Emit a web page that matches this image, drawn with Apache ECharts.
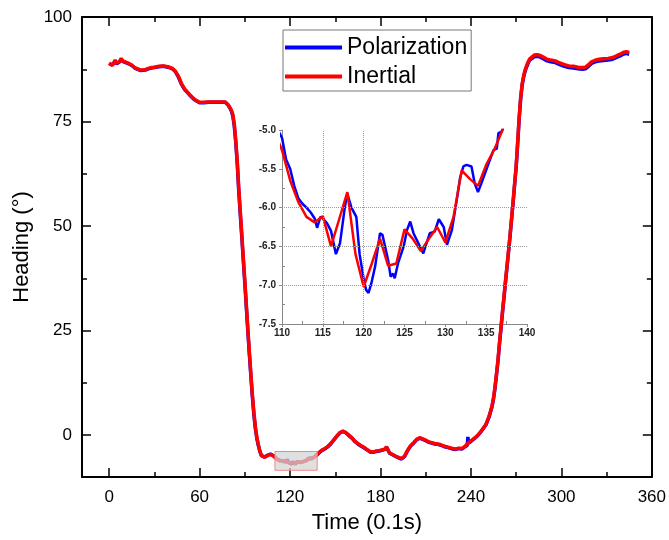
<!DOCTYPE html>
<html>
<head>
<meta charset="utf-8">
<script src="https://cdn.jsdelivr.net/npm/echarts@6/dist/echarts.min.js"></script>
<style>
html,body{margin:0;padding:0;background:#fff;}
#chart{width:669px;height:540px;}
</style>
</head>
<body>
<div id="chart"></div>
<script>
// ---- data ----
const inertialTime = [0,1,2,3,4,5,6,7,8,9,10,11,12,13,15,17,19,20,21,22,24,26,28,30,33,36,39,42,44,46,48,50,52,54,56,58,60,63,66,70,74,77,79,80,81,82,83,84,85,86,87,88,89,90,91,92,93,94,95,96,97,98,99,100,101,103,105,107,109,
110,111,112,113,114,115,116,117,118,119,120,121,122,123,124,125,126,127,128,129,130,131,132,133,134,135,136,137,
139,141,143,145,147,149,151,153,155,157,159,161,163,165,167,169,171,173,175,177,179,181,183,184,186,188,190,192,194,196,198,200,202,204,206,208,210,212,214,216,218,220,222,224,226,228,230,232,234,236,238,240,242,244,246,248,250,252,254,255,256,257,258,259,260,261,262,263,264,265,266,267,268,269,270,271,272,273,274,275,276,277,278,279,280,282,284,286,288,290,293,296,299,302,305,308,311,314,316,318,320,322,325,328,331,334,337,339,341,343,345];
const inertialHeading = [89.0,88.8,88.4,88.9,89.7,88.9,88.6,89.4,90.1,89.5,89.8,89.2,89.3,88.9,88.5,87.9,87.6,87.8,87.3,87.1,87.4,87.7,87.9,88.0,88.2,88.3,88.1,87.7,87.0,85.8,84.1,82.8,82.0,81.2,80.5,80.0,79.6,79.6,79.7,79.7,79.7,79.7,79.0,78.4,77.8,76.8,74.5,70.5,65.5,59.0,53.5,48.0,42.5,37.0,31.3,25.5,20.0,14.8,9.8,5.5,2.0,-0.5,-2.3,-3.8,-4.8,-5.3,-4.9,-4.6,-5.0,
-5.26,-5.65,-5.93,-6.12,-6.19,-6.11,-6.5,-6.15,-5.8,-6.6,-7.02,-6.72,-6.4,-6.75,-6.72,-6.28,-6.4,-6.56,-6.4,-6.25,-6.45,-6.12,-5.52,-5.63,-5.72,-5.45,-5.25,-5.0,
-4.2,-3.6,-3.2,-2.7,-2.0,-1.1,-0.2,0.6,1.0,0.6,0.0,-0.6,-1.4,-2.0,-2.5,-2.9,-3.4,-3.9,-4.0,-3.8,-3.7,-3.5,-3.3,-2.8,-4.2,-4.6,-5.0,-5.3,-5.6,-5.0,-3.6,-2.5,-1.8,-1.0,-0.6,-0.9,-1.2,-1.6,-1.8,-2.0,-2.1,-2.3,-2.6,-2.8,-3.0,-3.2,-3.3,-3.1,-3.2,-2.7,-1.9,-1.4,-0.8,-0.2,0.6,1.6,2.6,4.5,7.0,9.0,11.6,14.8,18.2,22.3,26.0,29.8,33.4,37.1,40.7,44.3,48.0,52.0,56.0,60.2,64.3,70.0,76.0,80.8,84.0,86.0,87.4,88.4,89.3,90.0,90.4,90.9,91.0,90.8,90.4,90.0,89.7,89.5,89.0,88.6,88.3,88.2,88.0,87.9,88.0,88.6,89.3,89.6,89.9,90.0,90.1,90.3,90.8,91.1,91.5,91.7,91.5];

const polarizationTime = [0,1,2,3,4,5,6,7,8,9,10,11,12,13,15,17,19,20,21,22,24,26,28,30,33,36,39,42,44,46,48,50,52,54,56,58,60,63,66,70,74,77,79,80,81,82,83,84,85,86,87,88,89,90,91,92,93,94,95,96,97,98,99,100,101,103,105,107,109,
110,110.5,111,111.5,112,112.5,113,113.5,114,114.3,114.7,115,115.5,116,116.6,117.1,117.7,118,118.5,119.1,119.5,120,120.3,120.6,121,121.4,122,122.3,123,123.3,123.6,123.8,124.2,124.9,125.3,125.7,126.1,126.7,127.3,128.1,128.7,129.2,129.8,130.2,130.8,131.4,131.8,132.2,132.6,133.2,133.6,134,134.4,135.3,135.9,136.3,136.5,136.9,137.5,
139,141,143,145,147,149,151,153,155,157,159,161,163,165,167,169,171,173,175,177,179,181,183,184,186,188,190,192,194,196,198,200,202,204,206,208,210,212,214,216,218,220,222,224,226,228,230,232,234,236,237.6,238,238.4,240,242,244,246,248,250,252,254,255,256,257,258,259,260,261,262,263,264,265,266,267,268,269,270,271,272,273,274,275,276,277,278,279,280,282,284,286,288,290,293,296,299,302,305,308,311,314,316,318,320,322,325,328,331,334,337,339,341,343,345];
const polarizationHeading = [88.9,88.7,88.5,88.8,89.5,88.8,88.7,89.3,89.9,89.4,89.7,89.1,89.2,88.8,88.4,87.8,87.5,87.7,87.2,87.0,87.3,87.6,87.8,87.9,88.1,88.2,88.0,87.6,86.9,85.6,83.9,82.7,81.9,81.1,80.4,79.9,79.5,79.5,79.6,79.6,79.6,79.6,78.9,78.3,77.6,76.4,74.0,70.0,64.8,58.3,52.8,47.4,41.8,36.4,30.7,25.0,19.5,14.3,9.3,5.0,1.6,-0.8,-2.5,-3.9,-4.9,-5.2,-4.8,-4.5,-4.9,
-5.1,-5.38,-5.5,-5.72,-5.88,-5.95,-6.0,-6.06,-6.14,-6.26,-6.12,-6.14,-6.2,-6.3,-6.6,-6.46,-5.99,-5.82,-6.0,-6.12,-6.6,-6.92,-7.06,-7.1,-6.95,-6.76,-6.33,-6.35,-6.68,-6.89,-6.85,-6.91,-6.72,-6.5,-6.29,-6.18,-6.33,-6.46,-6.59,-6.33,-6.31,-6.15,-6.25,-6.48,-6.29,-5.9,-5.62,-5.47,-5.45,-5.47,-5.69,-5.8,-5.69,-5.43,-5.26,-5.24,-5.04,-5.02,-4.85,
-4.3,-3.7,-3.3,-2.8,-2.1,-1.2,-0.3,0.5,0.9,0.6,-0.1,-0.7,-1.5,-2.1,-2.6,-3.0,-3.5,-4.0,-4.1,-3.9,-3.8,-3.6,-3.4,-2.9,-4.3,-4.7,-5.1,-5.4,-5.7,-5.1,-3.7,-2.6,-1.9,-1.1,-0.7,-1.0,-1.3,-1.7,-1.9,-2.1,-2.2,-2.4,-2.7,-2.9,-3.1,-3.3,-3.4,-3.2,-3.3,-2.8,-2.4,-0.4,-1.9,-1.5,-0.9,-0.3,0.5,1.5,2.5,4.3,6.8,8.7,11.3,14.5,17.9,22.0,25.7,29.5,33.1,36.8,40.4,44.0,47.7,51.7,55.7,59.9,64.0,69.6,75.6,80.4,83.7,85.7,87.1,88.1,89.0,89.7,90.1,90.5,90.6,90.4,90.0,89.6,89.3,89.1,88.6,88.2,87.9,87.8,87.6,87.5,87.6,88.2,88.9,89.2,89.5,89.6,89.7,89.9,90.4,90.7,91.1,91.3,91.1];

const xMajorTicks = [0, 60, 120, 180, 240, 300, 360];
const xMinorTicks = [30, 90, 150, 210, 270, 330];
const yMajorTicks = [0, 25, 50, 75, 100];
const yMinorTicks = [12.5, 37.5, 62.5, 87.5];
const insetXMinorTicks = [112.5, 117.5, 122.5, 127.5, 132.5, 137.5];
const insetYMinorTicks = [-7.25, -6.75, -6.25, -5.75, -5.25];
const insetGridX = [115, 120];
const insetGridY = [-6.0, -6.5, -7.0];
const highlightTime = [110, 138];
const highlightHeading = [-3.9, -8.4];

// ---- build chart ----
const FONT = 'Arial, "Liberation Sans", sans-serif';
const polData = polarizationTime.map((t, i) => [t, polarizationHeading[i]]);
const inrData = inertialTime.map((t, i) => [t, inertialHeading[i]]);

function mainX(position, ticks, len, showLine, showLabel, extra) {
  return Object.assign({
    type: 'value', gridIndex: 0, position: position, min: -18, max: 360,
    axisLine: { show: showLine, onZero: false, lineStyle: { color: '#000', width: 2 } },
    axisTick: { show: true, inside: true, length: len, customValues: ticks, lineStyle: { color: '#000', width: 1.5 } },
    axisLabel: showLabel ? { show: true, customValues: ticks, margin: 12, fontSize: 17, color: '#000', fontFamily: FONT } : { show: false },
    splitLine: { show: false }
  }, extra || {});
}
function mainY(position, ticks, len, showLine, showLabel, extra) {
  return Object.assign({
    type: 'value', gridIndex: 0, position: position, min: -10, max: 100,
    axisLine: { show: showLine, onZero: false, lineStyle: { color: '#000', width: 2 } },
    axisTick: { show: true, inside: true, length: len, customValues: ticks, lineStyle: { color: '#000', width: 1.5 } },
    axisLabel: showLabel ? { show: true, customValues: ticks, margin: 10, fontSize: 17, color: '#000', fontFamily: FONT } : { show: false },
    splitLine: { show: false }
  }, extra || {});
}

const chart = echarts.init(document.getElementById('chart'), null, { renderer: 'canvas' });
chart.setOption({
  animation: false,
  backgroundColor: '#fff',
  grid: [
    { left: 82, top: 17, right: 16, bottom: 63 },
    { left: 282, top: 130, width: 245, height: 194 }
  ],
  legend: {
    data: ['Polarization', 'Inertial'],
    orient: 'vertical', left: 283, top: 30,
    icon: 'rect',
    itemWidth: 57, itemHeight: 4, itemGap: 6,
    padding: [6, 4, 3, 2],
    borderColor: '#777', borderWidth: 1, backgroundColor: '#fff',
    textStyle: { fontSize: 23, color: '#000', fontFamily: FONT }
  },
  xAxis: [
    mainX('bottom', xMajorTicks, 9, true, true, {
      name: 'Time (0.1s)', nameLocation: 'middle', nameGap: 35,
      nameTextStyle: { fontSize: 22, color: '#000', fontFamily: FONT }
    }),
    mainX('bottom', xMinorTicks, 5, false, false),
    mainX('top', xMajorTicks, 9, true, false),
    mainX('top', xMinorTicks, 5, false, false),
    {
      type: 'value', gridIndex: 1, position: 'bottom', min: 110, max: 140, interval: 5,
      axisLine: { show: true, onZero: false, lineStyle: { color: '#888', width: 1 } },
      axisTick: { show: true, inside: false, length: 3, lineStyle: { color: '#888' } },
      axisLabel: { fontSize: 10, fontWeight: 'bold', color: '#222', margin: 4, fontFamily: FONT },
      splitLine: { show: false }
    },
    {
      type: 'value', gridIndex: 1, position: 'bottom', min: 110, max: 140,
      axisLine: { show: false, onZero: false },
      axisTick: { show: true, inside: true, length: 3, customValues: insetXMinorTicks, lineStyle: { color: '#888' } },
      axisLabel: { show: false }, splitLine: { show: false }
    }
  ],
  yAxis: [
    mainY('left', yMajorTicks, 9, true, true, {
      name: 'Heading (°)', nameLocation: 'middle', nameGap: 42, nameRotate: 90,
      nameTextStyle: { fontSize: 22, color: '#000', fontFamily: FONT }
    }),
    mainY('left', yMinorTicks, 5, false, false),
    mainY('right', yMajorTicks, 9, true, false),
    mainY('right', yMinorTicks, 5, false, false),
    {
      type: 'value', gridIndex: 1, position: 'left', min: -7.5, max: -5.0, interval: 0.5,
      axisLine: { show: true, onZero: false, lineStyle: { color: '#888', width: 1 } },
      axisTick: { show: true, inside: false, length: 3, lineStyle: { color: '#888' } },
      axisLabel: { fontSize: 10, fontWeight: 'bold', color: '#222', margin: 6, fontFamily: FONT,
        formatter: v => v.toFixed(1) },
      splitLine: { show: false }
    },
    {
      type: 'value', gridIndex: 1, position: 'left', min: -7.5, max: -5.0,
      axisLine: { show: false, onZero: false },
      axisTick: { show: true, inside: true, length: 3, customValues: insetYMinorTicks, lineStyle: { color: '#888' } },
      axisLabel: { show: false }, splitLine: { show: false }
    }
  ],
  series: [
    {
      name: 'Polarization', type: 'line', xAxisIndex: 0, yAxisIndex: 0, data: polData,
      showSymbol: false, symbol: 'none', color: '#0000ff',
      lineStyle: { color: '#0000ff', width: 3.5 }
    },
    {
      name: 'Inertial', type: 'line', xAxisIndex: 0, yAxisIndex: 0, data: inrData,
      showSymbol: false, symbol: 'none', color: '#ff0000',
      lineStyle: { color: '#ff0000', width: 3.5 },
      markArea: {
        z: 10, silent: true,
        itemStyle: { color: 'rgba(212,212,212,0.72)', borderColor: '#ee8888', borderWidth: 1 },
        data: [[{ xAxis: highlightTime[0], yAxis: highlightHeading[0] }, { xAxis: highlightTime[1], yAxis: highlightHeading[1] }]]
      }
    },
    {
      name: 'Polarization', type: 'line', xAxisIndex: 4, yAxisIndex: 4, data: polData,
      showSymbol: false, symbol: 'none', color: '#0000ff', clip: true,
      lineStyle: { color: '#0000ff', width: 2.5 },
      markLine: {
        silent: true, symbol: 'none', label: { show: false },
        lineStyle: { type: 'dotted', color: '#9a9a9a', width: 1 },
        data: insetGridX.map(v => ({ xAxis: v })).concat(insetGridY.map(v => ({ yAxis: v })))
      }
    },
    {
      name: 'Inertial', type: 'line', xAxisIndex: 4, yAxisIndex: 4, data: inrData,
      showSymbol: false, symbol: 'none', color: '#ff0000', clip: true,
      lineStyle: { color: '#ff0000', width: 2.5 }
    }
  ]
});
</script>
</body>
</html>
